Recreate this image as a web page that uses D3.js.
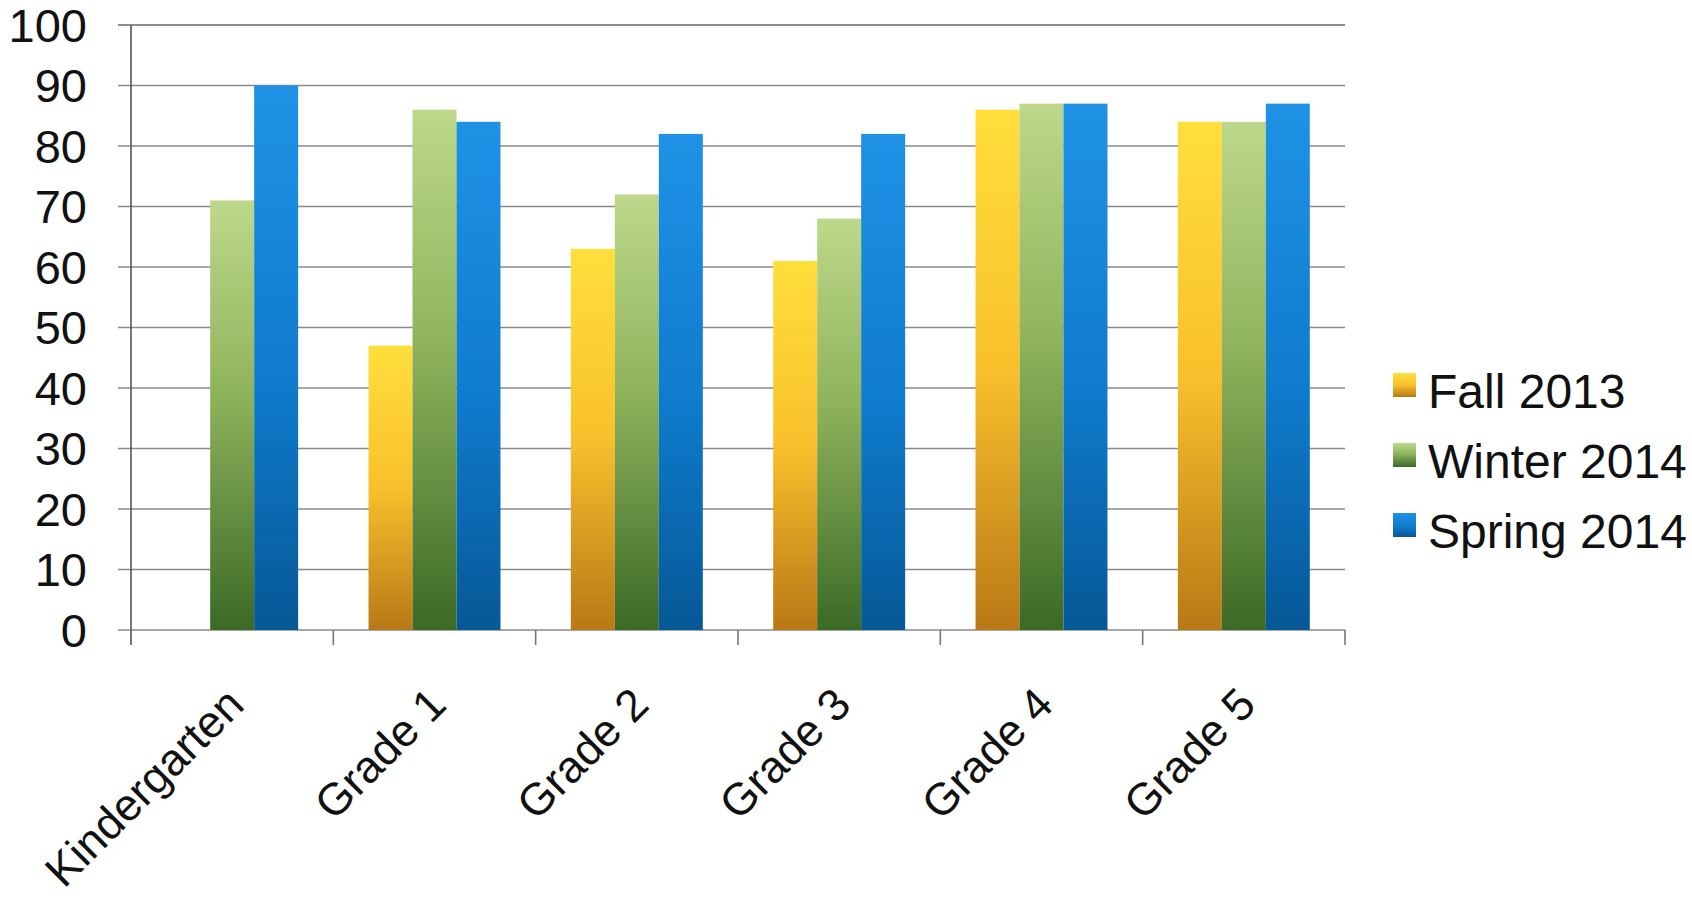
<!DOCTYPE html>
<html>
<head>
<meta charset="utf-8">
<script src="https://cdn.jsdelivr.net/npm/d3@7"></script>
<style>
  html, body { margin: 0; padding: 0; background: #fff; }
  svg { display: block; }
  text { font-family: "Liberation Sans", Arial, sans-serif; fill: #111; }
</style>
</head>
<body>
<svg id="chart" width="1692" height="899"></svg>
<script>
const categories = ["Kindergarten", "Grade 1", "Grade 2", "Grade 3", "Grade 4", "Grade 5"];
const seriesNames = ["Fall 2013", "Winter 2014", "Spring 2014"];
const fall2013   = [null, 47, 63, 61, 86, 84];
const winter2014 = [71, 86, 72, 68, 87, 84];
const spring2014 = [90, 84, 82, 82, 87, 87];
const yTicks = [0, 10, 20, 30, 40, 50, 60, 70, 80, 90, 100];

(function () {
const seriesValues = [fall2013, winter2014, spring2014];
const gradStops = [
  [["0%", "#ffdf3c"], ["50%", "#f8c02c"], ["100%", "#b97816"]],
  [["0%", "#bdd88a"], ["45%", "#8fb35c"], ["100%", "#3b6a26"]],
  [["0%", "#1f92e6"], ["55%", "#0f7bcc"], ["100%", "#065896"]]
];

const svg = d3.select("#chart");
const defs = svg.append("defs");
gradStops.forEach((stops, i) => {
  const g = defs.append("linearGradient").attr("id", "g" + i)
    .attr("x1", 0).attr("y1", 0).attr("x2", 0).attr("y2", 1);
  stops.forEach(s => g.append("stop").attr("offset", s[0]).attr("stop-color", s[1]));
});

const pLeft = 131, pRight = 1345, pTop = 25, pBottom = 630;

const x0 = d3.scaleBand().domain(categories).range([pLeft, pRight]).paddingInner(0).paddingOuter(0);
const x1 = d3.scaleBand().domain(seriesNames).range([0, x0.bandwidth()]).paddingInner(0).paddingOuter(0.8);
const y = d3.scaleLinear().domain([0, 100]).range([pBottom, pTop]);

// gridlines
svg.append("g").selectAll("line").data(yTicks).join("line")
  .attr("x1", pLeft - 13).attr("x2", pRight)
  .attr("y1", d => y(d)).attr("y2", d => y(d))
  .attr("stroke", d => d === 100 ? "#666" : "#8a8a8a")
  .attr("stroke-width", 1.6);

// y tick labels
svg.append("g").selectAll("text").data(yTicks).join("text")
  .attr("x", 87).attr("y", d => y(d))
  .attr("dy", "0.36em")
  .attr("text-anchor", "end")
  .attr("font-size", 47)
  .text(d => d);

// bars
const gGroups = svg.append("g").selectAll("g").data(categories).join("g")
  .attr("transform", d => `translate(${x0(d)},0)`);
gGroups.selectAll("rect")
  .data((c, ci) => seriesNames.map((s, si) => ({ s, si, v: seriesValues[si][ci] })).filter(d => d.v != null))
  .join("rect")
  .attr("x", d => x1(d.s))
  .attr("width", x1.bandwidth())
  .attr("y", d => y(d.v))
  .attr("height", d => y(0) - y(d.v))
  .attr("fill", d => `url(#g${d.si})`);

// y axis line
svg.append("line").attr("x1", pLeft).attr("x2", pLeft)
  .attr("y1", pTop).attr("y2", pBottom + 15)
  .attr("stroke", "#555").attr("stroke-width", 1.6);

// x axis ticks at category boundaries
const bounds = categories.map(c => x0(c)).concat([pRight]);
svg.append("g").selectAll("line").data(bounds).join("line")
  .attr("x1", d => d).attr("x2", d => d)
  .attr("y1", pBottom).attr("y2", pBottom + 15)
  .attr("stroke", "#777").attr("stroke-width", 1.6);

// x labels
svg.append("g").selectAll("text").data(categories).join("text")
  .attr("transform", d => `translate(${x0(d) + x0.bandwidth() / 2 + 14},${pBottom + 77}) rotate(-45)`)
  .attr("text-anchor", "end")
  .attr("font-size", 45)
  .text(d => d);

// legend
const legend = svg.append("g").selectAll("g").data(seriesNames).join("g")
  .attr("transform", (d, i) => `translate(1393,${373 + i * 70})`);
legend.append("rect").attr("width", 23).attr("height", 24)
  .attr("fill", (d, i) => `url(#g${i})`);
legend.append("text").attr("x", 35).attr("y", 35)
  .attr("font-size", 48)
  .text(d => d);
})();
</script>
</body>
</html>
